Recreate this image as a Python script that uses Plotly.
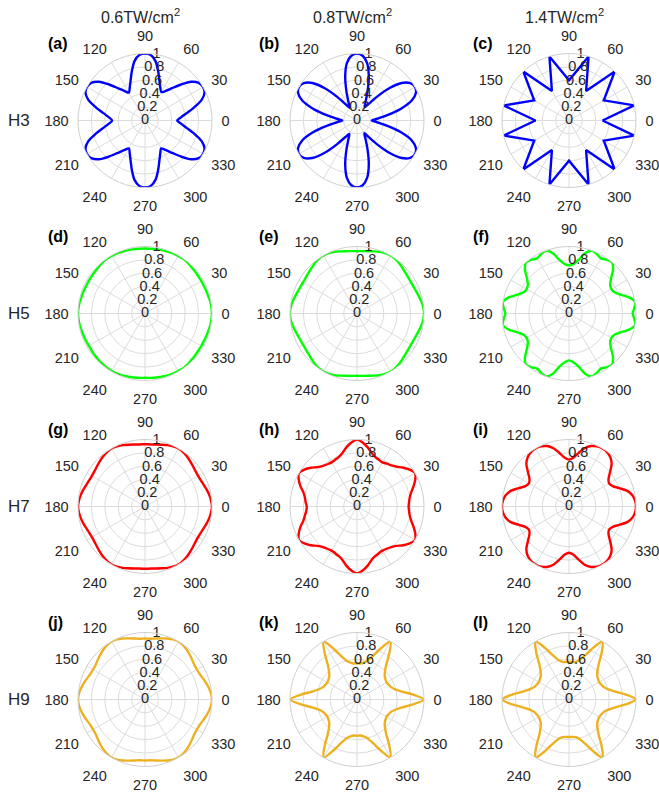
import plotly.graph_objects as go

W, H = 659, 793

# ---------------------------------------------------------------- data
ANGLES = list(range(0, 360, 5))          # sampling angle of the smooth curves (deg)
R_TICKS = [0, 0.2, 0.4, 0.6, 0.8, 1]
R_TICK_TEXT = ["0", "0.2", "0.4", "0.6", "0.8", "1"]
THETA_TICKS = list(range(0, 360, 30))
THETA_TICK_TEXT = ["0", "30", "60", "90", "120", "150",
                   "180", "210", "240", "270", "300", "330"]

INTENSITIES = ["0.6TW/cm<sup>2</sup>", "0.8TW/cm<sup>2</sup>", "1.4TW/cm<sup>2</sup>"]
HARMONICS = ["H3", "H5", "H7", "H9"]
PANEL_TAGS = ["(a)", "(b)", "(c)", "(d)", "(e)", "(f)",
              "(g)", "(h)", "(i)", "(j)", "(k)", "(l)"]

# normalised harmonic yield vs. polarisation angle, one row of 12 values per 60 deg
H3_06 = [0.48, 0.54, 0.63, 0.76, 0.90, 0.98, 1.00, 0.98, 0.90, 0.76, 0.63, 0.54,
         0.49, 0.54, 0.63, 0.76, 0.90, 0.98, 1.00, 0.98, 0.90, 0.76, 0.63, 0.54,
         0.48, 0.54, 0.63, 0.76, 0.90, 0.98, 1.00, 0.98, 0.90, 0.76, 0.63, 0.54,
         0.49, 0.54, 0.63, 0.76, 0.90, 0.98, 1.00, 0.98, 0.90, 0.76, 0.63, 0.54,
         0.48, 0.54, 0.63, 0.76, 0.90, 0.98, 1.00, 0.98, 0.90, 0.76, 0.63, 0.54,
         0.48, 0.54, 0.63, 0.76, 0.90, 0.98, 1.00, 0.98, 0.90, 0.76, 0.63, 0.54]

H3_08 = [0.22, 0.30, 0.46, 0.68, 0.87, 0.97, 1.00, 0.97, 0.87, 0.68, 0.46, 0.30,
         0.23, 0.30, 0.46, 0.68, 0.87, 0.97, 1.00, 0.97, 0.87, 0.68, 0.46, 0.30,
         0.22, 0.30, 0.46, 0.68, 0.87, 0.97, 1.00, 0.97, 0.87, 0.68, 0.46, 0.30,
         0.22, 0.30, 0.46, 0.68, 0.87, 0.97, 1.00, 0.97, 0.87, 0.68, 0.46, 0.30,
         0.23, 0.30, 0.46, 0.68, 0.87, 0.97, 1.00, 0.97, 0.87, 0.68, 0.46, 0.30,
         0.22, 0.30, 0.46, 0.68, 0.87, 0.97, 1.00, 0.97, 0.87, 0.68, 0.46, 0.30]

# coarse angular scan: vertices joined by straight segments
H3_14_THETA = [0, 13, 30, 47, 60, 73, 90, 107, 120, 133, 150, 167,
               180, 193, 210, 227, 240, 253, 270, 287, 300, 313, 330, 347, 360]
H3_14 = [0.50, 1.00, 0.60, 1.00, 0.51, 1.00, 0.60, 1.00, 0.51, 1.00, 0.60, 1.00,
         0.50, 1.00, 0.60, 1.00, 0.51, 1.00, 0.60, 1.00, 0.51, 1.00, 0.60, 1.00, 0.50]

H5_06 = [1.00, 0.995, 0.99, 0.98, 0.975, 0.97, 0.97, 0.97, 0.975, 0.98, 0.99, 0.995,
         0.99, 0.99, 0.985, 0.98, 0.975, 0.97, 0.97, 0.97, 0.975, 0.98, 0.985, 0.99,
         0.99, 0.995, 0.99, 0.98, 0.975, 0.97, 0.97, 0.97, 0.975, 0.98, 0.99, 0.995,
         1.00, 0.995, 0.99, 0.98, 0.975, 0.97, 0.965, 0.97, 0.975, 0.98, 0.985, 0.99,
         0.99, 0.99, 0.985, 0.975, 0.97, 0.965, 0.96, 0.965, 0.97, 0.975, 0.985, 0.99,
         0.99, 0.995, 0.99, 0.98, 0.975, 0.97, 0.97, 0.97, 0.975, 0.98, 0.99, 0.995]

H5_08 = [1.00, 0.995, 0.98, 0.96, 0.944, 0.934, 0.93, 0.934, 0.944, 0.96, 0.98, 0.995,
         1.00, 0.995, 0.98, 0.96, 0.944, 0.934, 0.93, 0.934, 0.944, 0.96, 0.98, 0.995,
         1.00, 0.995, 0.98, 0.96, 0.944, 0.934, 0.93, 0.934, 0.944, 0.96, 0.98, 0.995,
         1.00, 0.995, 0.98, 0.96, 0.944, 0.934, 0.93, 0.934, 0.944, 0.96, 0.98, 0.995,
         1.00, 0.995, 0.98, 0.96, 0.944, 0.934, 0.93, 0.934, 0.944, 0.96, 0.98, 0.995,
         1.00, 0.995, 0.98, 0.96, 0.944, 0.934, 0.93, 0.934, 0.944, 0.96, 0.98, 0.995]

H5_14 = [0.95, 0.98, 1.00, 0.93, 0.82, 0.75, 0.73, 0.75, 0.82, 0.93, 1.00, 0.98,
         0.95, 0.98, 1.00, 0.93, 0.81, 0.74, 0.72, 0.74, 0.81, 0.93, 1.00, 0.98,
         0.95, 0.98, 1.00, 0.93, 0.82, 0.75, 0.73, 0.75, 0.82, 0.93, 1.00, 0.98,
         0.95, 0.98, 1.00, 0.93, 0.82, 0.75, 0.73, 0.75, 0.82, 0.93, 1.00, 0.98,
         0.95, 0.98, 1.00, 0.93, 0.80, 0.73, 0.70, 0.73, 0.80, 0.93, 1.00, 0.98,
         0.95, 0.98, 1.00, 0.93, 0.82, 0.75, 0.73, 0.75, 0.82, 0.93, 1.00, 0.98]

H7_06 = [1.00, 0.99, 0.975, 0.955, 0.935, 0.92, 0.915, 0.92, 0.935, 0.955, 0.975, 0.99,
         1.00, 0.99, 0.975, 0.955, 0.94, 0.93, 0.93, 0.93, 0.94, 0.955, 0.975, 0.99,
         1.00, 0.99, 0.975, 0.955, 0.935, 0.92, 0.915, 0.92, 0.935, 0.955, 0.975, 0.99,
         1.00, 0.99, 0.975, 0.955, 0.935, 0.92, 0.915, 0.92, 0.935, 0.955, 0.975, 0.99,
         1.00, 0.99, 0.975, 0.955, 0.94, 0.93, 0.93, 0.93, 0.94, 0.955, 0.975, 0.99,
         1.00, 0.99, 0.975, 0.955, 0.935, 0.92, 0.915, 0.92, 0.935, 0.955, 0.975, 0.99]

H7_08 = [0.77, 0.78, 0.80, 0.84, 0.90, 0.96, 1.00, 0.96, 0.90, 0.84, 0.80, 0.78,
         0.76, 0.77, 0.79, 0.83, 0.90, 0.96, 1.00, 0.96, 0.90, 0.83, 0.79, 0.77,
         0.76, 0.77, 0.79, 0.83, 0.90, 0.96, 1.00, 0.96, 0.90, 0.83, 0.79, 0.77,
         0.75, 0.76, 0.79, 0.83, 0.90, 0.96, 1.00, 0.96, 0.90, 0.83, 0.79, 0.77,
         0.76, 0.77, 0.79, 0.83, 0.90, 0.96, 1.00, 0.96, 0.90, 0.83, 0.79, 0.77,
         0.76, 0.77, 0.79, 0.83, 0.90, 0.96, 1.00, 0.96, 0.90, 0.84, 0.80, 0.78]

H7_14 = [1.00, 0.99, 0.96, 0.90, 0.80, 0.72, 0.69, 0.72, 0.80, 0.90, 0.96, 0.99,
         1.00, 0.99, 0.96, 0.90, 0.81, 0.73, 0.70, 0.73, 0.81, 0.90, 0.96, 0.99,
         1.00, 0.99, 0.96, 0.90, 0.80, 0.72, 0.69, 0.72, 0.80, 0.90, 0.96, 0.99,
         1.00, 0.99, 0.96, 0.90, 0.80, 0.72, 0.69, 0.72, 0.80, 0.90, 0.96, 0.99,
         1.00, 0.99, 0.96, 0.90, 0.80, 0.72, 0.69, 0.72, 0.80, 0.90, 0.96, 0.99,
         1.00, 0.99, 0.96, 0.90, 0.80, 0.72, 0.69, 0.72, 0.80, 0.90, 0.96, 0.99]

H9_06 = [1.00, 0.99, 0.97, 0.945, 0.92, 0.90, 0.895, 0.90, 0.92, 0.945, 0.97, 0.99,
         1.00, 0.99, 0.97, 0.945, 0.925, 0.91, 0.91, 0.91, 0.925, 0.945, 0.97, 0.99,
         1.00, 0.99, 0.97, 0.945, 0.92, 0.90, 0.895, 0.90, 0.92, 0.945, 0.97, 0.99,
         1.00, 0.99, 0.97, 0.945, 0.92, 0.90, 0.895, 0.90, 0.92, 0.945, 0.97, 0.99,
         1.00, 0.99, 0.97, 0.945, 0.925, 0.91, 0.91, 0.91, 0.925, 0.945, 0.97, 0.99,
         1.00, 0.99, 0.97, 0.945, 0.92, 0.90, 0.895, 0.90, 0.92, 0.945, 0.97, 0.99]

H9_08 = [1.00, 0.84, 0.68, 0.59, 0.54, 0.52, 0.51, 0.52, 0.54, 0.59, 0.68, 0.84,
         1.00, 0.84, 0.69, 0.60, 0.56, 0.54, 0.54, 0.54, 0.56, 0.60, 0.69, 0.84,
         1.00, 0.84, 0.68, 0.59, 0.54, 0.52, 0.51, 0.52, 0.54, 0.59, 0.68, 0.84,
         1.00, 0.84, 0.68, 0.59, 0.54, 0.52, 0.51, 0.52, 0.54, 0.59, 0.68, 0.84,
         1.00, 0.84, 0.69, 0.60, 0.56, 0.54, 0.54, 0.54, 0.56, 0.60, 0.69, 0.84,
         1.00, 0.84, 0.68, 0.59, 0.54, 0.52, 0.51, 0.52, 0.54, 0.59, 0.68, 0.84]

H9_14 = [1.00, 0.85, 0.69, 0.60, 0.55, 0.53, 0.52, 0.53, 0.55, 0.60, 0.69, 0.85,
         1.00, 0.85, 0.70, 0.61, 0.57, 0.56, 0.56, 0.56, 0.57, 0.61, 0.70, 0.85,
         1.00, 0.85, 0.69, 0.60, 0.55, 0.53, 0.52, 0.53, 0.55, 0.60, 0.69, 0.85,
         1.00, 0.85, 0.69, 0.60, 0.55, 0.53, 0.52, 0.53, 0.55, 0.60, 0.69, 0.85,
         1.00, 0.85, 0.70, 0.61, 0.57, 0.56, 0.56, 0.56, 0.57, 0.61, 0.70, 0.85,
         1.00, 0.85, 0.69, 0.60, 0.55, 0.53, 0.52, 0.53, 0.55, 0.60, 0.69, 0.85]

ROW_COLORS = ["#0000FF", "#00FF00", "#FF0000", "#EDB120"]

# (theta, r, line shape) for each panel, row by row
PANELS = [
    (ANGLES, H3_06, "spline"), (ANGLES, H3_08, "spline"), (H3_14_THETA, H3_14, "linear"),
    (ANGLES, H5_06, "spline"), (ANGLES, H5_08, "spline"), (ANGLES, H5_14, "spline"),
    (ANGLES, H7_06, "spline"), (ANGLES, H7_08, "spline"), (ANGLES, H7_14, "spline"),
    (ANGLES, H9_06, "spline"), (ANGLES, H9_08, "spline"), (ANGLES, H9_14, "spline"),
]

# ---------------------------------------------------------------- layout geometry (px)
COL_X = [145, 357, 569]
ROW_Y = [120.5, 313.5, 506.5, 699.5]
RADIUS = 67
TAG_X = [46, 257, 471]
TAG_DY = -77

FONT = "Liberation Sans, Arial, Helvetica, sans-serif"
TXT = "#262626"
GRID = "#dcdcdc"


def px(x):
    return x / W


def py(y):
    return 1 - y / H


fig = go.Figure()
layout = dict(
    width=W, height=H,
    margin=dict(l=0, r=0, t=0, b=0),
    paper_bgcolor="white", plot_bgcolor="white",
    showlegend=False,
    font=dict(family=FONT, color=TXT),
)
annotations = []

for i, (theta, r, shape) in enumerate(PANELS):
    row, col = divmod(i, 3)
    key = "polar" if i == 0 else f"polar{i + 1}"
    cx, cy = COL_X[col], ROW_Y[row]

    th = list(theta)
    rr = list(r)
    if th[-1] != 360:
        th = th + [360]
        rr = rr + [r[0]]

    fig.add_trace(go.Scatterpolar(
        theta=th, r=rr, mode="lines", subplot=key,
        line=dict(color=ROW_COLORS[row], width=2.4, shape=shape, smoothing=0.8),
        cliponaxis=False, hoverinfo="skip",
    ))
    # radial tick labels along the 80 deg direction
    fig.add_trace(go.Scatterpolar(
        theta=[80] * len(R_TICKS), r=R_TICKS, mode="text", text=R_TICK_TEXT,
        textposition="middle center", subplot=key,
        textfont=dict(family=FONT, size=14.5, color=TXT),
        cliponaxis=False, hoverinfo="skip",
    ))

    layout[key] = dict(
        domain=dict(x=[px(cx - RADIUS), px(cx + RADIUS)],
                    y=[py(cy + RADIUS), py(cy - RADIUS)]),
        bgcolor="white",
        angularaxis=dict(
            rotation=0, direction="counterclockwise",
            tickmode="array", tickvals=THETA_TICKS, ticktext=THETA_TICK_TEXT,
            showgrid=True, gridcolor=GRID, gridwidth=1,
            showline=True, linecolor="#cfcfcf", linewidth=1,
            ticks="outside", ticklen=6, tickcolor="rgba(0,0,0,0)",
            tickfont=dict(family=FONT, size=14.5, color=TXT),
        ),
        radialaxis=dict(
            range=[0, 1], tickmode="array", tickvals=R_TICKS,
            showticklabels=False, ticks="", showline=False,
            showgrid=True, gridcolor=GRID, gridwidth=1,
        ),
    )

    annotations.append(dict(
        text="<b>" + PANEL_TAGS[i] + "</b>", x=px(TAG_X[col]), y=py(cy + TAG_DY),
        xref="paper", yref="paper", xanchor="left", yanchor="middle",
        showarrow=False, font=dict(family=FONT, size=16, color="#000000"),
    ))

for c, label in enumerate(INTENSITIES):
    annotations.append(dict(
        text=label, x=px(COL_X[c] - 5), y=py(16),
        xref="paper", yref="paper", xanchor="center", yanchor="middle",
        showarrow=False, font=dict(family=FONT, size=16, color=TXT),
    ))

for rI, label in enumerate(HARMONICS):
    annotations.append(dict(
        text=label, x=px(6), y=py(ROW_Y[rI]),
        xref="paper", yref="paper", xanchor="left", yanchor="middle",
        showarrow=False, font=dict(family=FONT, size=17, color=TXT),
    ))

layout["annotations"] = annotations
fig.update_layout(**layout)
fig.write_html("out.html")
